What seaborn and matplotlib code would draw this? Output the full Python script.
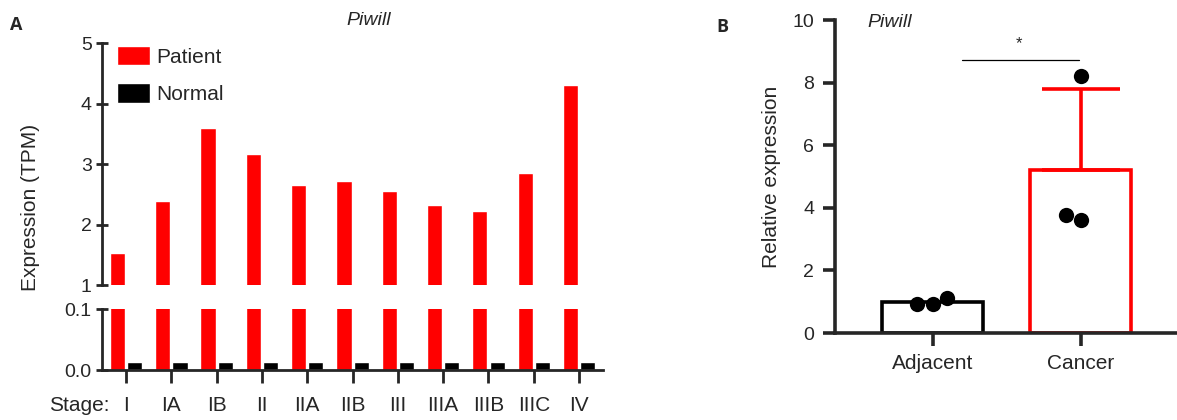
import numpy as np
import pandas as pd
import seaborn as sns
import matplotlib.pyplot as plt

# panel A: TPM expression by stage
stages = ["I", "IA", "IB", "II", "IIA", "IIB", "III", "IIIA", "IIIB", "IIIC", "IV"]
patient_tpm = [1.53, 2.39, 3.6, 3.17, 2.65, 2.72, 2.55, 2.32, 2.22, 2.85, 4.31]
normal_tpm = [0.013] * 11

# panel B: relative expression (qPCR, 3 replicates)
adjacent_vals = [1.12, 0.93, 0.93]
cancer_vals = [8.21, 3.61, 3.77]
groups_b = ["Adjacent", "Cancer"]

sns.set_style("ticks")
plt.rcParams['font.family'] = ['Liberation Sans', 'DejaVu Sans']

df_a = pd.DataFrame({
    "stage": stages * 2,
    "tpm": patient_tpm + normal_tpm,
    "group": ["Patient"] * len(stages) + ["Normal"] * len(stages),
})
df_b = pd.DataFrame({
    "group": ["Adjacent"] * len(adjacent_vals) + ["Cancer"] * len(cancer_vals),
    "value": adjacent_vals + cancer_vals,
})

pal_a = {"Patient": "#ff0000", "Normal": "black"}
pal_b = {"Adjacent": "black", "Cancer": "#ff0000"}

fig = plt.figure(figsize=(11.77, 4.2), dpi=100)
ax_top = fig.add_axes([0.0867, 0.3214, 0.4257, 0.576])
ax_low = fig.add_axes([0.0867, 0.119, 0.4257, 0.145])
ax_b = fig.add_axes([0.7094, 0.2071, 0.2906, 0.745])

# ---- panel A ----
for ax in (ax_top, ax_low):
    sns.barplot(data=df_a, x="stage", y="tpm", hue="group", palette=pal_a,
                width=0.76, gap=0.12, saturation=1, ax=ax,
                legend=(ax is ax_top))
    ax.set_xlim(-0.53, 10.53)
    ax.set_xlabel("")
    ax.set_ylabel("")
    ax.spines["right"].set_visible(False)
    ax.spines["top"].set_visible(False)
    ax.spines["left"].set_linewidth(2)
    ax.tick_params(axis="y", direction="inout", length=9, width=2,
                   labelsize=14, pad=3)

ax_top.set_ylim(1, 5)
ax_top.set_yticks([1, 2, 3, 4, 5])
ax_top.spines["bottom"].set_visible(False)
ax_top.tick_params(axis="x", bottom=False, labelbottom=False)

ax_low.set_ylim(0, 0.1)
ax_low.set_yticks([0.0, 0.1])
ax_low.set_yticklabels(["0.0", "0.1"])
ax_low.spines["bottom"].set_linewidth(2)
ax_low.tick_params(axis="x", direction="out", length=9, width=2,
                   labelsize=15, pad=10)

handles, labels = ax_top.get_legend_handles_labels()
ax_top.legend(handles, labels, loc="upper left", bbox_to_anchor=(0.005, 1.04),
              frameon=False, fontsize=15, handlelength=1.6, handleheight=1.05,
              labelspacing=0.8, handletextpad=0.3, borderaxespad=0.2)

fig.text(0.067, 0.034, "Stage:", fontsize=15, va="center", ha="center")
fig.text(0.026, 0.507, "Expression (TPM)", fontsize=15, rotation=90,
         va="center", ha="center")
fig.text(0.313, 0.952, "Piwill", fontsize=14, style="italic", ha="center", va="center")
fig.text(0.014, 0.94, "A", fontsize=13, fontweight="bold", ha="center", va="center",
         family=["Open Sans", "DejaVu Sans"])

# ---- panel B ----
sns.barplot(data=df_b, x="group", y="value", hue="group", palette=pal_b,
            fill=False, errorbar=None, width=0.68, linewidth=2.6,
            legend=False, ax=ax_b)
means = df_b.groupby("group")["value"].mean()
sds = df_b.groupby("group")["value"].std()
# only the cancer SD bar shows in the original (adjacent one is hidden by dots)
ax_b.errorbar(1, means["Cancer"], yerr=[[0], [sds["Cancer"]]], color=pal_b["Cancer"],
              capsize=28, elinewidth=2.6, capthick=2.6, zorder=1)
sns.swarmplot(data=df_b, x="group", y="value", color="black", size=11,
              ax=ax_b, zorder=3)

ax_b.set_xlim(-0.66, 1.65)
ax_b.set_ylim(0, 10)
ax_b.set_yticks([0, 2, 4, 6, 8, 10])
ax_b.set_xlabel("")
ax_b.set_ylabel("Relative expression", fontsize=15, labelpad=8)
ax_b.spines["right"].set_visible(False)
ax_b.spines["top"].set_visible(False)
ax_b.spines["left"].set_linewidth(2.6)
ax_b.spines["bottom"].set_linewidth(2.6)
ax_b.tick_params(axis="y", direction="out", length=9, width=2.6, labelsize=14, pad=6)
ax_b.tick_params(axis="x", direction="out", length=9, width=2.6, labelsize=15, pad=6)

# significance bar
ax_b.plot([0.2, 0.99], [8.72, 8.72], color="black", lw=0.9)
ax_b.text(0.58, 9.0, "*", ha="center", va="bottom", fontsize=12)

fig.text(0.756, 0.947, "Piwill", fontsize=14, style="italic", ha="center", va="center")
fig.text(0.614, 0.935, "B", fontsize=13, fontweight="bold", ha="center", va="center",
         family=["Open Sans", "DejaVu Sans"])

fig.savefig("out.png", dpi=100)
